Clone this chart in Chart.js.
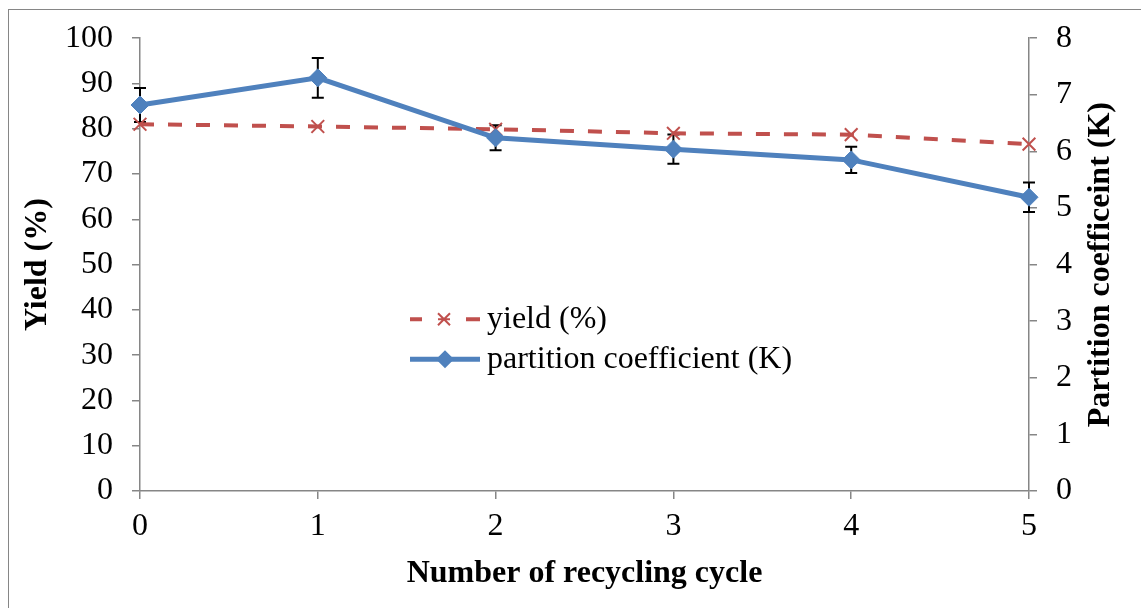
<!DOCTYPE html>
<html>
<head>
<meta charset="utf-8">
<script src="https://cdn.jsdelivr.net/npm/chart.js@4.4.1/dist/chart.umd.min.js"></script>
<style>
  html, body { margin: 0; padding: 0; background: #ffffff; overflow: hidden; }
  #wrap { position: relative; width: 1141px; height: 608px; }
  #frame { position: absolute; left: 8px; top: 9px; width: 1200px; height: 700px; border: 1.5px solid #868686; box-sizing: border-box; pointer-events: none; }
</style>
</head>
<body>
<div id="wrap">
  <canvas id="recycleChart" width="1141" height="608"></canvas>
  <div id="frame"></div>
</div>
<script>
// Data
const cycles = ["0", "1", "2", "3", "4", "5"];
const yieldValues = [81.0, 80.5, 79.9, 79.0, 78.7, 76.6];
const kValues = [6.82, 7.30, 6.24, 6.04, 5.85, 5.19];
const kErrors = [0.30, 0.35, 0.22, 0.26, 0.23, 0.26];

const yieldTicks = [0, 10, 20, 30, 40, 50, 60, 70, 80, 90, 100];
const kTicks = [0, 1, 2, 3, 4, 5, 6, 7, 8];

const axisGray = "#868686";
const yieldRed = "#C0504D";
const kBlue = "#4F81BD";
const serif = "'Liberation Serif', 'Times New Roman', serif";

// Error bars for K, drawn under the series
const errorBars = {
  id: "errorBars",
  beforeDatasetsDraw(chart) {
    const meta = chart.getDatasetMeta(0);
    const yScale = chart.scales.y1;
    const ctx = chart.ctx;
    ctx.save();
    ctx.strokeStyle = "#000000";
    ctx.lineWidth = 2;
    meta.data.forEach((pt, i) => {
      const top = yScale.getPixelForValue(kValues[i] + kErrors[i]);
      const bot = yScale.getPixelForValue(kValues[i] - kErrors[i]);
      ctx.beginPath();
      ctx.moveTo(pt.x, top);
      ctx.lineTo(pt.x, bot);
      ctx.moveTo(pt.x - 6, top);
      ctx.lineTo(pt.x + 6, top);
      ctx.moveTo(pt.x - 6, bot);
      ctx.lineTo(pt.x + 6, bot);
      ctx.stroke();
    });
    ctx.restore();
  },
};

// Legend inside the plot area + right axis title (reads bottom to top)
const innerLegend = {
  id: "innerLegend",
  afterDraw(chart) {
    const ctx = chart.ctx;
    const area = chart.chartArea;
    const x0 = area.left + 270;
    const y1 = area.top + 281;
    const y2 = area.top + 321;
    ctx.save();
    // yield
    ctx.strokeStyle = yieldRed;
    ctx.lineWidth = 4;
    ctx.beginPath();
    ctx.moveTo(x0, y1); ctx.lineTo(x0 + 12, y1);
    ctx.moveTo(x0 + 56, y1); ctx.lineTo(x0 + 70, y1);
    ctx.stroke();
    ctx.lineWidth = 2;
    ctx.beginPath();
    ctx.moveTo(x0 + 28, y1 - 6); ctx.lineTo(x0 + 40, y1 + 6);
    ctx.moveTo(x0 + 40, y1 - 6); ctx.lineTo(x0 + 28, y1 + 6);
    ctx.moveTo(x0 + 28, y1); ctx.lineTo(x0 + 40, y1);
    ctx.stroke();
    // K
    ctx.strokeStyle = kBlue;
    ctx.fillStyle = kBlue;
    ctx.lineWidth = 5;
    ctx.beginPath();
    ctx.moveTo(x0, y2); ctx.lineTo(x0 + 70, y2);
    ctx.stroke();
    ctx.beginPath();
    ctx.moveTo(x0 + 35, y2 - 9); ctx.lineTo(x0 + 44, y2);
    ctx.lineTo(x0 + 35, y2 + 9); ctx.lineTo(x0 + 26, y2);
    ctx.closePath();
    ctx.fill();
    // labels
    ctx.fillStyle = "#000000";
    ctx.font = "32px " + serif;
    ctx.textBaseline = "middle";
    ctx.textAlign = "left";
    ctx.fillText("yield (%)", x0 + 77, y1);
    ctx.fillText("partition coefficient (K)", x0 + 77, y2);

    // right axis title
    ctx.font = "bold 32px " + serif;
    ctx.textAlign = "center";
    ctx.translate(1101, (area.top + area.bottom) / 2);
    ctx.rotate(-Math.PI / 2);
    ctx.fillText("Partition coefficeint (K)", 0, 0);
    ctx.restore();
  },
};

const ctx = document.getElementById("recycleChart").getContext("2d");
window.recycleChart = new Chart(ctx, {
  type: "line",
  data: {
    labels: cycles,
    datasets: [
      {
        label: "partition coefficient (K)",
        data: kValues,
        yAxisID: "y1",
        borderColor: kBlue,
        backgroundColor: kBlue,
        borderWidth: 5,
        pointStyle: "rectRot",
        pointRadius: 9,
        pointBorderWidth: 1,
        pointBackgroundColor: kBlue,
        pointBorderColor: kBlue,
        tension: 0,
        clip: false,
      },
      {
        label: "yield (%)",
        data: yieldValues,
        yAxisID: "y",
        borderColor: yieldRed,
        backgroundColor: yieldRed,
        borderWidth: 4,
        borderDash: [14, 14],
        pointStyle: "crossRot",
        pointRadius: 9,
        pointBorderWidth: 2,
        pointBorderColor: yieldRed,
        tension: 0,
        clip: false,
      },
    ],
  },
  options: {
    responsive: false,
    animation: false,
    events: [],
    layout: { padding: { top: 37, left: 0, right: 0, bottom: 0 } },
    scales: {
      x: {
        type: "category",
        offset: false,
        grid: { drawOnChartArea: false, drawTicks: true, tickLength: 8, color: axisGray, lineWidth: 1.5 },
        border: { color: axisGray, width: 1.5 },
        ticks: { color: "#000000", padding: 8, font: { family: serif, size: 32 } },
        title: {
          display: true,
          text: "Number of recycling cycle",
          color: "#000000",
          font: { family: serif, size: 32, weight: "bold" },
          padding: { top: 4, bottom: 15 },
        },
        afterFit(scale) { scale.height = 117; },
      },
      y: {
        position: "left",
        min: 0,
        max: 100,
        afterBuildTicks(scale) { scale.ticks = yieldTicks.map((v) => ({ value: v })); },
        grid: { drawOnChartArea: false, drawTicks: true, tickLength: 8, color: axisGray, lineWidth: 1.5 },
        border: { color: axisGray, width: 1.5 },
        ticks: { color: "#000000", padding: 19, font: { family: serif, size: 32 } },
        title: {
          display: true,
          text: "Yield (%)",
          color: "#000000",
          font: { family: serif, size: 32, weight: "bold" },
          padding: { top: 19, bottom: 4 },
        },
        afterFit(scale) { scale.width = 140; },
      },
      y1: {
        position: "right",
        min: 0,
        max: 8,
        afterBuildTicks(scale) { scale.ticks = kTicks.map((v) => ({ value: v })); },
        grid: { drawOnChartArea: false, drawTicks: true, tickLength: 8, color: axisGray, lineWidth: 1.5 },
        border: { color: axisGray, width: 1.5 },
        ticks: { color: "#000000", padding: 19, font: { family: serif, size: 32 } },
        title: { display: false },
        afterFit(scale) { scale.width = 112; },
      },
    },
    plugins: {
      legend: { display: false },
      tooltip: { enabled: false },
      title: { display: false },
    },
  },
  plugins: [errorBars, innerLegend],
});
</script>
</body>
</html>
